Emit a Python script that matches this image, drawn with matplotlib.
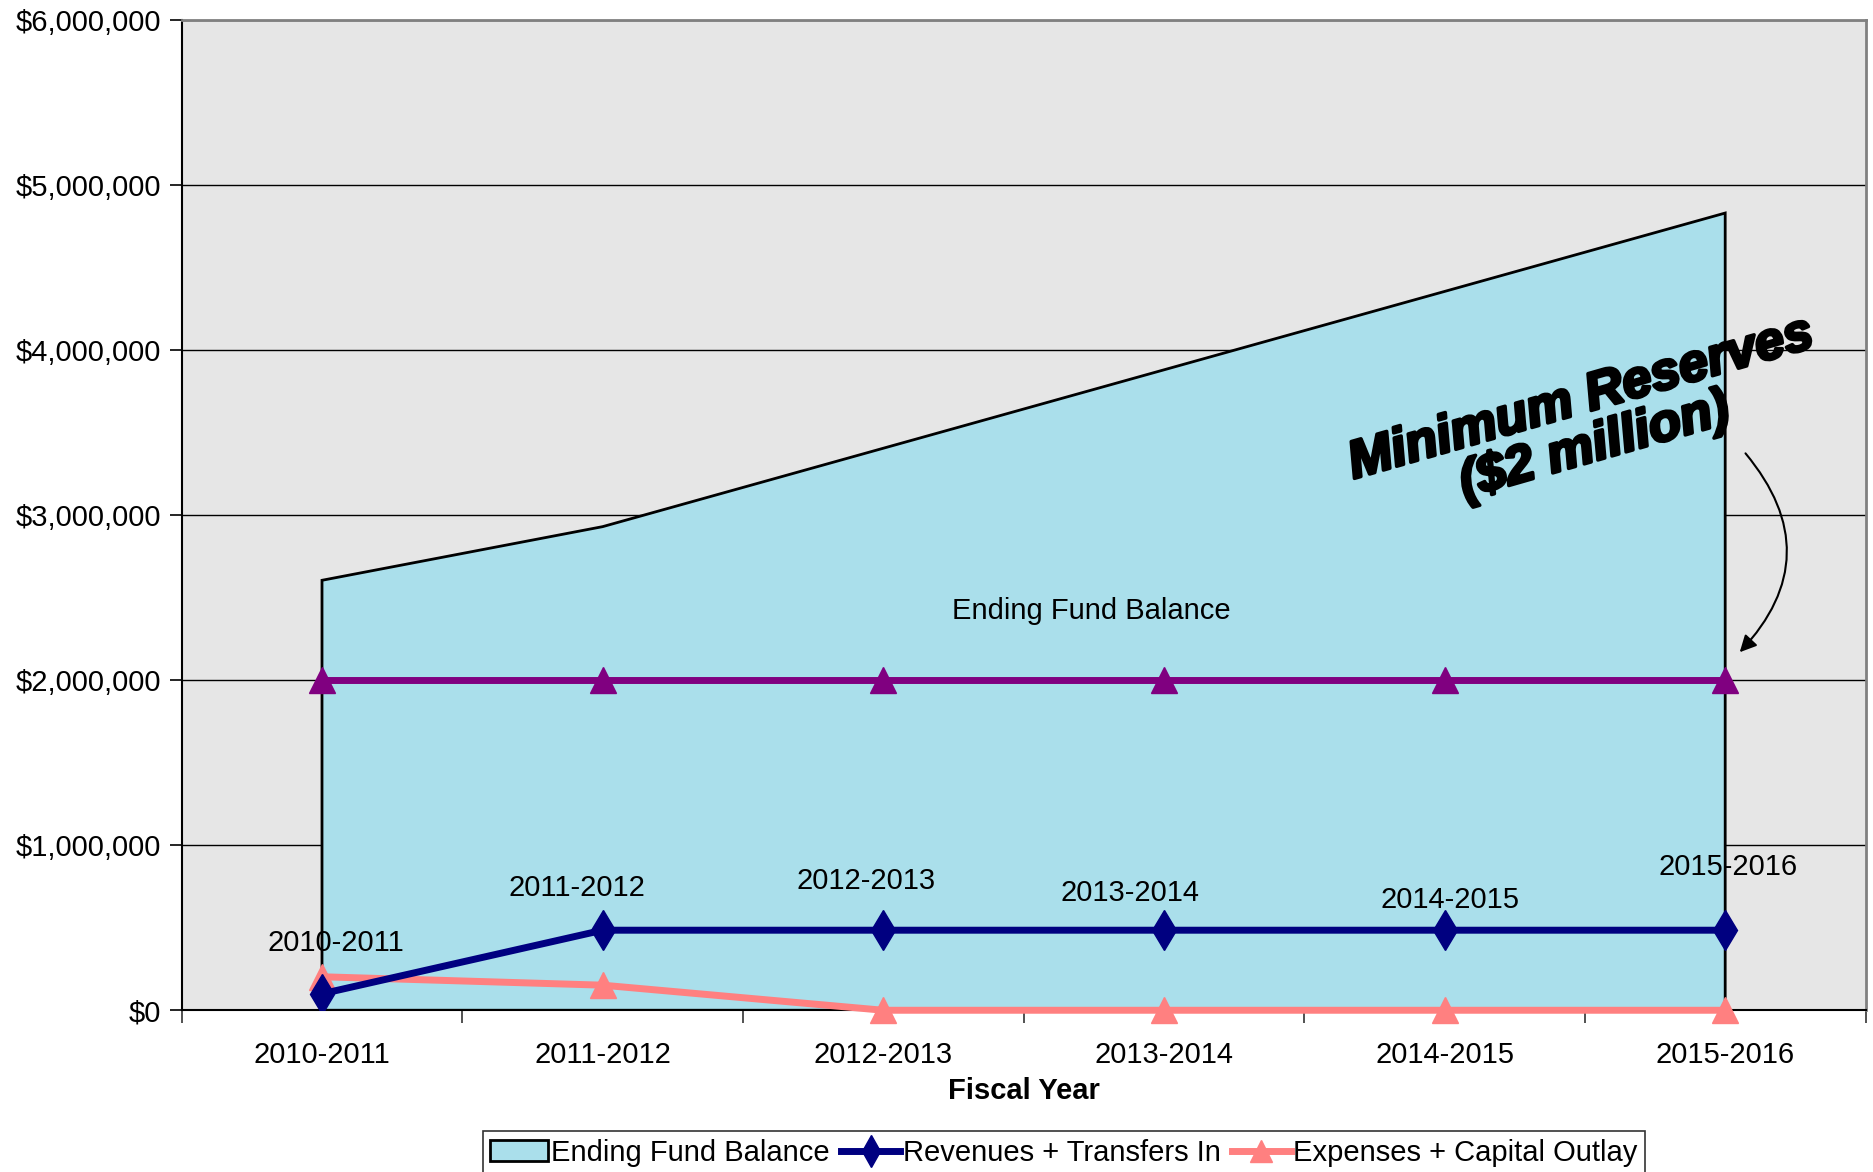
import matplotlib.pyplot as plt
import matplotlib.patheffects as pe
from matplotlib.lines import Line2D
from matplotlib.patches import Patch
from matplotlib.ticker import FuncFormatter, FixedLocator

plt.rcParams['font.family'] = ['Liberation Sans', 'DejaVu Sans']

years = ['2010-2011', '2011-2012', '2012-2013', '2013-2014', '2014-2015', '2015-2016']
ending_balance = [2605000, 2930000, 3405000, 3880000, 4355000, 4830000]
revenues = [100000, 485000, 485000, 485000, 485000, 485000]
expenses = [203000, 152000, 0, 0, 0, 0]
min_reserves = [2000000, 2000000, 2000000, 2000000, 2000000, 2000000]

# where the (hand-moved) data labels sit, in data coords
label_pos = [(0.05, 405000), (0.91, 738000), (1.94, 782000),
             (2.88, 709000), (4.02, 666000), (5.01, 869000)]

FS = 21

fig = plt.figure(figsize=(18.73, 11.72), dpi=100)
ax = fig.add_axes([0.097, 0.138, 0.899, 0.845])
ax.set_facecolor('#e6e6e6')

x = list(range(len(years)))

ax.fill(x + [x[-1], x[0]], ending_balance + [0, 0], facecolor='#aadfeb',
        edgecolor='black', lw=2, zorder=2)
ax.plot(x, min_reserves, color='#800080', lw=5, marker='^', ms=19, zorder=4)
ax.plot(x, revenues, color='#000080', lw=5, marker='d', ms=20, zorder=5)
ax.plot(x, expenses, color='#ff8080', lw=5, marker='^', ms=19, zorder=4,
        clip_on=False)

for (lx, ly), name in zip(label_pos, years):
    ax.text(lx, ly, name, ha='center', va='center', fontsize=FS, zorder=6)
ax.text(2.74, 2417000, 'Ending Fund Balance', ha='center', va='center',
        fontsize=FS, zorder=6)

ax.text(4.51, 3560000, 'Minimum Reserves\n($2 million)', ha='center',
        va='center', rotation=16, fontsize=38, fontweight='bold',
        fontstyle='italic', linespacing=0.95, zorder=7,
        path_effects=[pe.withStroke(linewidth=2.5, foreground='black')])
ax.annotate('', xy=(5.045, 2157000), xytext=(5.066, 3387000),
            arrowprops=dict(arrowstyle='-|>', color='black', lw=1.5,
                            mutation_scale=25,
                            connectionstyle='arc3,rad=-0.45'),
            zorder=7)

ax.set_xlim(-0.5, 5.5)
ax.set_ylim(0, 6000000)
ax.set_xticks(x)
ax.set_xticklabels(years)
ax.xaxis.set_minor_locator(FixedLocator([i - 0.5 for i in range(len(years) + 1)]))
ax.tick_params(axis='x', which='major', length=0, pad=22, labelsize=FS)
ax.tick_params(axis='x', which='minor', length=9, width=1.2, color='#333333')
ax.set_yticks(range(0, 6000001, 1000000))
ax.yaxis.set_major_formatter(FuncFormatter(lambda v, p: '${:,.0f}'.format(v)))
ax.tick_params(axis='y', length=9, width=1.2, labelsize=FS, pad=6)

ax.yaxis.grid(True, color='black', lw=1)
ax.set_axisbelow(True)

for s in ['left', 'bottom']:
    ax.spines[s].set_color('black')
    ax.spines[s].set_linewidth(1.5)
for s in ['top', 'right']:
    ax.spines[s].set_color('#808080')
    ax.spines[s].set_linewidth(2)

ax.set_xlabel('Fiscal Year', fontsize=FS, fontweight='bold', labelpad=6)

handles = [Patch(facecolor='#aadfeb', edgecolor='black', lw=2),
           Line2D([], [], color='#000080', lw=5, marker='d', ms=16),
           Line2D([], [], color='#ff8080', lw=5, marker='^', ms=16)]
leg = fig.legend(handles, ['Ending Fund Balance', 'Revenues + Transfers In',
                           'Expenses + Capital Outlay'],
                 loc='upper center', bbox_to_anchor=(0.568, 0.047), ncol=3,
                 fontsize=FS, frameon=True, fancybox=False, edgecolor='black',
                 handlelength=2.0, handletextpad=0.1, columnspacing=0.4,
                 borderpad=0.25)
leg.get_frame().set_linewidth(1.2)

fig.savefig('out.png', dpi=100)
